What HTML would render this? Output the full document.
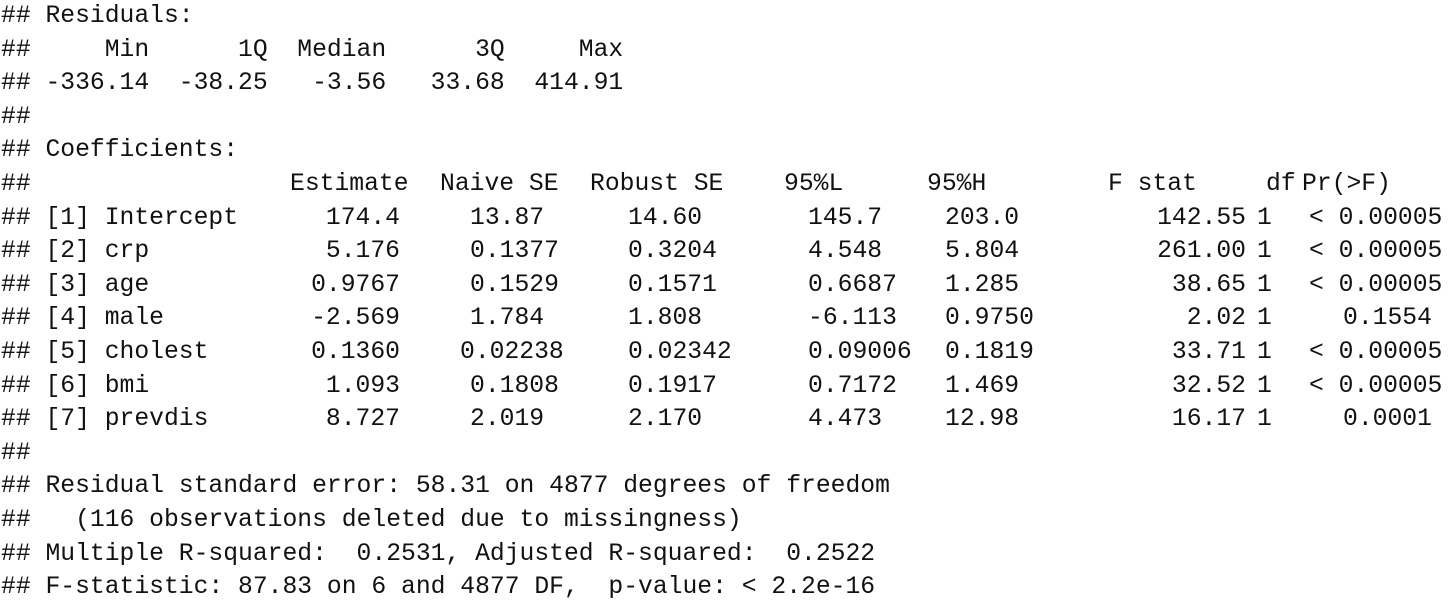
<!DOCTYPE html>
<html><head><meta charset="utf-8">
<style>
html,body{margin:0;padding:0;background:#fff;}
#out{position:relative;width:1454px;height:611px;overflow:hidden;background:#fff;
 font-family:"Liberation Mono","DejaVu Sans Mono",monospace;font-size:24.7px;color:#111;}
.l{position:absolute;left:1px;height:33.6px;line-height:33.6px;white-space:pre;}
.t{position:absolute;height:33.6px;line-height:33.6px;white-space:pre;}
.r{text-align:right;}
</style></head>
<body>
<div id="out">
<div class="l" style="top:0px">## Residuals:</div>
<div class="l" style="top:33.6px">##     Min      1Q  Median      3Q     Max</div>
<div class="l" style="top:67.2px">## -336.14  -38.25   -3.56   33.68  414.91</div>
<div class="l" style="top:100.8px">##</div>
<div class="l" style="top:134.4px">## Coefficients:</div>

<div class="l" style="top:436.8px">##</div>
<div class="l" style="top:470.4px">## Residual standard error: 58.31 on 4877 degrees of freedom</div>
<div class="l" style="top:504px">##   (116 observations deleted due to missingness)</div>
<div class="l" style="top:537.6px">## Multiple R-squared:  0.2531, Adjusted R-squared:  0.2522</div>
<div class="l" style="top:571.2px">## F-statistic: 87.83 on 6 and 4877 DF,  p-value: &lt; 2.2e-16</div>
</div>
<script>
const headers = ["Estimate","Naive SE","Robust SE","95%L","95%H","F stat","df","Pr(>F)"];
const rowLabels = ["[1] Intercept","[2] crp","[3] age","[4] male","[5] cholest","[6] bmi","[7] prevdis"];
const estimate = ["174.4","5.176","0.9767","-2.569","0.1360","1.093","8.727"];
const naiveSE = ["13.87","0.1377","0.1529","1.784","0.02238","0.1808","2.019"];
const robustSE = ["14.60","0.3204","0.1571","1.808","0.02342","0.1917","2.170"];
const lower95 = ["145.7","4.548","0.6687","-6.113","0.09006","0.7172","4.473"];
const upper95 = ["203.0","5.804","1.285","0.9750","0.1819","1.469","12.98"];
const fStat = ["142.55","261.00","38.65","2.02","33.71","32.52","16.17"];
const dfs = ["1","1","1","1","1","1","1"];
const pValue = ["< 0.00005","< 0.00005","< 0.00005","0.1554","< 0.00005","< 0.00005","0.0001"];

const tbl = document.getElementById('out');
const LH = 33.6;
const headerX = [290,440,590,784,927,1108,1266,1302];
function add(text, x, line, name, right){
  const d = document.createElement('div');
  d.className = 't' + (right ? ' r' : '');
  d.textContent = text;
  d.style.top = (line*LH) + 'px';
  if (right){ d.style.right = (1454 - x) + 'px'; } else { d.style.left = x + 'px'; }
  
  
  tbl.appendChild(d);
}
add('##', 1, 5, 'header-prefix', false);
headers.forEach((h,i)=>{ add(h, headerX[i], 5, 'column-header', false); });
rowLabels.forEach((lab,r)=>{
  const line = 6 + r;
  add('## ' + lab, 1, line, 'row-label', false);
  add(estimate[r], 400, line, 'estimate-value', true);
  add(naiveSE[r], naiveSE[r].length >= 7 ? 460 : 470, line, 'naive-se-value', false);
  add(robustSE[r], 628, line, 'robust-se-value', false);
  add(lower95[r], 808, line, 'lower-95-value', false);
  add(upper95[r], 945, line, 'upper-95-value', false);
  add(fStat[r], 1246, line, 'f-stat-value', true);
  add(dfs[r], 1257, line, 'df-value', false);
  add(pValue[r], pValue[r].charAt(0) === '<' ? 1309 : 1343, line, 'p-value', false);
});
</script>
</body></html>
